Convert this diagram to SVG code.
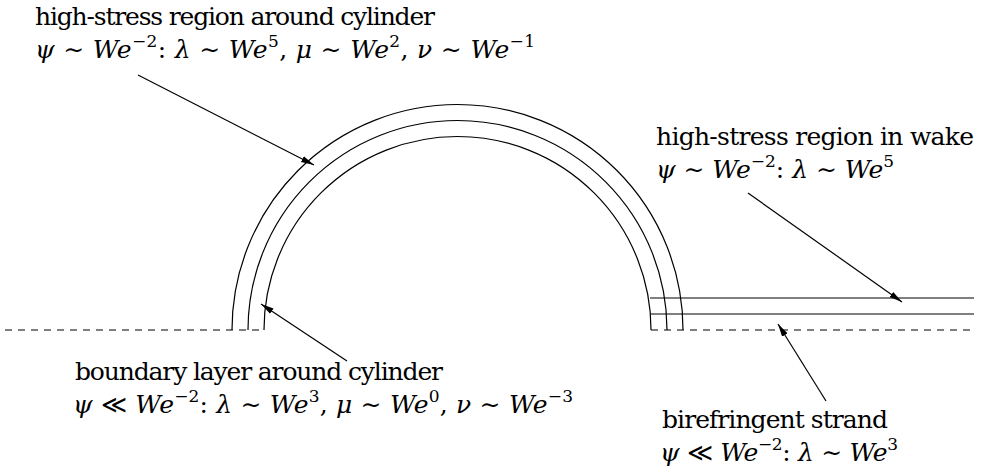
<svg xmlns="http://www.w3.org/2000/svg" width="984" height="473" viewBox="0 0 984 473">
<style>
text{font-family:'DejaVu Serif','Liberation Serif',serif;font-size:25px;fill:#000}
.i{font-style:italic}
.s{font-size:17px}
.ln{fill:none;stroke:#000;stroke-width:1.2}
.dash{fill:none;stroke:#000;stroke-width:1.2;stroke-dasharray:7 6}
.arr{fill:none;stroke:#000;stroke-width:1.2;marker-end:url(#ah)}
</style>
<defs>
<marker id="ah" markerUnits="userSpaceOnUse" markerWidth="14" markerHeight="8" refX="13" refY="4" orient="auto">
<path d="M0,0.8 L13,4 L0,7.2 Z" fill="#000"/>
</marker>
</defs>
<g id="cylinder">
<path class="ln" d="M232,330 A225.5,225.5 0 0 1 683,330"/>
<path class="ln" d="M248,330 A209.5,209.5 0 0 1 667,330"/>
<path class="ln" d="M264,330 A193.5,193.5 0 0 1 651,330"/>
</g>
<g id="wake">
<path class="ln" d="M650,298 H974"/>
<path class="ln" d="M651,314 H974"/>
</g>
<g id="axis">
<path class="dash" d="M5,330 H264"/>
<path class="dash" d="M651,330 H974"/>
</g>
<g id="label-cylinder">
<text x="35" y="25" textLength="400">high-stress region around cylinder</text>
<text x="35" y="58" textLength="500"><tspan class="i">ψ</tspan> ∼  <tspan class="i">We</tspan><tspan class="s" dy="-11">−2</tspan><tspan dy="11">: </tspan><tspan class="i">λ</tspan> ∼  <tspan class="i">We</tspan><tspan class="s" dy="-11">5</tspan><tspan dy="11">, </tspan><tspan class="i">μ</tspan> ∼  <tspan class="i">We</tspan><tspan class="s" dy="-11">2</tspan><tspan dy="11">, </tspan><tspan class="i">ν</tspan> ∼  <tspan class="i">We</tspan><tspan class="s" dy="-11">−1</tspan></text>
</g>
<g id="label-wake">
<text x="656" y="145" textLength="318">high-stress region in wake</text>
<text x="656" y="178" textLength="238"><tspan class="i">ψ</tspan> ∼  <tspan class="i">We</tspan><tspan class="s" dy="-11">−2</tspan><tspan dy="11">: </tspan><tspan class="i">λ</tspan> ∼  <tspan class="i">We</tspan><tspan class="s" dy="-11">5</tspan></text>
</g>
<g id="label-boundary">
<text x="75" y="380" textLength="368">boundary layer around cylinder</text>
<text x="73" y="413" textLength="500"><tspan class="i">ψ</tspan> ≪  <tspan class="i">We</tspan><tspan class="s" dy="-11">−2</tspan><tspan dy="11">: </tspan><tspan class="i">λ</tspan> ∼  <tspan class="i">We</tspan><tspan class="s" dy="-11">3</tspan><tspan dy="11">, </tspan><tspan class="i">μ</tspan> ∼  <tspan class="i">We</tspan><tspan class="s" dy="-11">0</tspan><tspan dy="11">, </tspan><tspan class="i">ν</tspan> ∼  <tspan class="i">We</tspan><tspan class="s" dy="-11">−3</tspan></text>
</g>
<g id="label-strand">
<text x="662" y="428" textLength="226">birefringent strand</text>
<text x="660" y="461" textLength="238"><tspan class="i">ψ</tspan> ≪  <tspan class="i">We</tspan><tspan class="s" dy="-11">−2</tspan><tspan dy="11">: </tspan><tspan class="i">λ</tspan> ∼  <tspan class="i">We</tspan><tspan class="s" dy="-11">3</tspan></text>
</g>
<g id="connectors">
<line class="arr" x1="138" y1="75" x2="314" y2="165"/>
<line class="arr" x1="347" y1="361" x2="261" y2="304"/>
<line class="arr" x1="748" y1="193" x2="902" y2="302"/>
<line class="arr" x1="826" y1="401" x2="778" y2="324"/>
</g>
</svg>
